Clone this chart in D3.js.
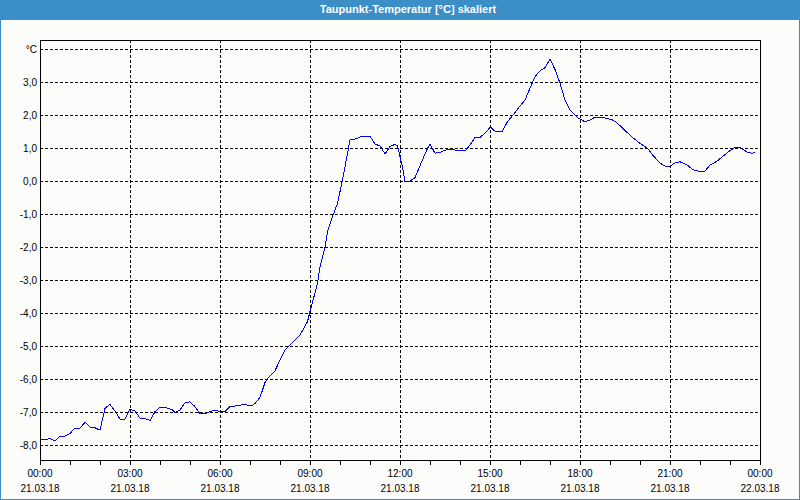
<!DOCTYPE html>
<html>
<head>
<meta charset="utf-8">
<script src="https://cdn.jsdelivr.net/npm/d3@7"></script>
<style>
  body { margin: 0; background: #fcfdfb; }
  svg text { font-family: "Liberation Sans", Arial, sans-serif; }
</style>
</head>
<body>
<div class="canvas"></div>
<script>
// chart title
const title = "Taupunkt-Temperatur [°C] skaliert";

// measurement times, minutes after 21.03.18 00:00
const minutes = [
  0, 10, 20, 30, 40, 50, 60, 70, 80, 90, 100, 110, 120, 130, 140, 150, 160, 170,
  180, 190, 200, 210, 220, 230, 240, 250, 265, 270, 280, 290, 300, 310, 320, 330,
  340, 350, 360, 370, 380, 390, 405, 425, 430, 440, 450, 455, 470, 480, 490, 505,
  520, 535, 540, 555, 560, 570, 575, 585, 595, 600, 605, 612, 620, 630, 645, 660,
  670, 680, 690, 700, 710, 715, 725, 730, 740, 750, 765, 775, 780, 790, 800, 815,
  825, 835, 850, 860, 870, 880, 895, 900, 910, 925, 935, 945, 960, 970, 980, 990,
  1000, 1010, 1020, 1030, 1040, 1050, 1060, 1075, 1090, 1100, 1110, 1125, 1145,
  1155, 1165, 1185, 1200, 1215, 1225, 1240, 1250, 1260, 1270, 1280, 1295, 1305,
  1320, 1330, 1340, 1355, 1365, 1380, 1390, 1400, 1405, 1415, 1425, 1430
];

// dew point in °C
const dewPoint = [
  -7.82, -7.84, -7.79, -7.87, -7.72, -7.72, -7.64, -7.48, -7.48, -7.30, -7.45, -7.47, -7.54, -6.88, -6.76, -6.96, -7.21, -7.21,
  -6.91, -6.96, -7.18, -7.19, -7.25, -6.98, -6.85, -6.85, -6.93, -7.00, -6.93, -6.71, -6.68, -6.83, -7.05, -7.05,
  -6.98, -6.93, -6.98, -6.98, -6.83, -6.81, -6.77, -6.79, -6.73, -6.55, -6.10, -5.97, -5.74, -5.42, -5.11, -4.88,
  -4.66, -4.25, -3.95, -3.09, -2.59, -2.00, -1.53, -1.07, -0.67, -0.31, 0.04, 0.60, 1.25, 1.28, 1.37, 1.37,
  1.13, 1.07, 0.83, 1.05, 1.12, 1.07, 0.44, -0.02, 0.01, 0.11, 0.65, 1.00, 1.13, 0.85, 0.88, 0.97,
  0.97, 0.93, 0.92, 1.10, 1.33, 1.33, 1.53, 1.65, 1.52, 1.52, 1.81, 1.99, 2.28, 2.46, 2.82, 3.17,
  3.35, 3.44, 3.70, 3.39, 2.97, 2.46, 2.16, 1.93, 1.80, 1.86, 1.94, 1.94, 1.86,
  1.76, 1.61, 1.33, 1.15, 1.00, 0.80, 0.55, 0.46, 0.46, 0.56, 0.59, 0.49, 0.36,
  0.29, 0.31, 0.49, 0.62, 0.75, 0.93, 1.03, 1.02, 0.98, 0.88, 0.85, 0.88
];

// y grid values, the top one is labelled with the unit
const yTicks = [-8, -7, -6, -5, -4, -3, -2, -1, 0, 1, 2, 3, 4];
const yUnit = "°C";

// dimensions
const width = 800, height = 500;
const plot = { left: 40, top: 40, right: 760, bottom: 460 };

const start = new Date(2018, 2, 21, 0, 0);
const end = new Date(2018, 2, 22, 0, 0);
const data = minutes.map((m, i) => ({ date: d3.timeMinute.offset(start, m), value: dewPoint[i] }));

const svg = d3.select(".canvas")
  .append("svg")
  .attr("width", width)
  .attr("height", height);

// window frame
svg.append("rect")
  .attr("x", 0.5).attr("y", 0.5)
  .attr("width", width - 1).attr("height", height - 1)
  .attr("fill", "#fcfdfb")
  .attr("stroke", "#3b8ec6");
svg.append("rect")
  .attr("x", 0).attr("y", 0)
  .attr("width", width).attr("height", 20)
  .attr("fill", "#3b8ec6");
svg.append("text")
  .attr("x", 408).attr("y", 13)
  .attr("text-anchor", "middle")
  .attr("fill", "white")
  .attr("font-size", 11)
  .attr("font-weight", "bold")
  .text(title);

// scales
const x = d3.scaleTime().domain([start, end]).range([plot.left, plot.right]);
const y = d3.scaleLinear()
  .domain([(181.3 - plot.bottom) / 33, (181.3 - plot.top) / 33])
  .range([plot.bottom, plot.top]);

// horizontal grid
svg.append("g")
  .selectAll("line")
  .data(yTicks)
  .join("line")
  .attr("x1", plot.left).attr("x2", plot.right)
  .attr("y1", d => Math.round(y(d)) + 0.5)
  .attr("y2", d => Math.round(y(d)) + 0.5)
  .attr("stroke", "black")
  .attr("stroke-dasharray", "3,2");

// vertical grid every 3 hours
const xGrid = d3.timeHour.every(3).range(d3.timeHour.offset(start, 3), end);
svg.append("g")
  .selectAll("line")
  .data(xGrid)
  .join("line")
  .attr("x1", d => Math.round(x(d)) + 0.5)
  .attr("x2", d => Math.round(x(d)) + 0.5)
  .attr("y1", plot.top).attr("y2", plot.bottom)
  .attr("stroke", "black")
  .attr("stroke-dasharray", "3,2");

// bottom axis with hourly ticks
const fmtTime = d3.timeFormat("%H:%M");
const fmtDate = d3.timeFormat("%d.%m.%y");
const xAxis = svg.append("g")
  .attr("transform", `translate(0, ${plot.bottom})`)
  .call(d3.axisBottom(x).ticks(d3.timeHour.every(1)).tickSize(5).tickSizeOuter(0).tickFormat(""));
xAxis.select(".domain").remove();
xAxis.selectAll("line").attr("stroke", "black");

const xLabels = d3.timeHour.every(3).range(start, d3.timeMinute.offset(end, 1));
const lab = svg.append("g").selectAll("g")
  .data(xLabels)
  .join("g")
  .attr("transform", d => `translate(${x(d)}, 0)`);
lab.append("text")
  .attr("y", 477)
  .attr("text-anchor", "middle")
  .attr("font-size", 10)
  .attr("fill", "black")
  .text(fmtTime);
lab.append("text")
  .attr("y", 492)
  .attr("text-anchor", "middle")
  .attr("font-size", 10)
  .attr("fill", "black")
  .text(fmtDate);

// y labels
svg.append("g")
  .selectAll("text")
  .data(yTicks)
  .join("text")
  .attr("x", 37)
  .attr("y", d => y(d) + 3.5)
  .attr("text-anchor", "end")
  .attr("font-size", 10)
  .attr("fill", "black")
  .text(d => d === 4 ? yUnit : d3.format(".1f")(d).replace(".", ",").replace("−", "-"));

// plot frame
svg.append("rect")
  .attr("x", plot.left + 0.5).attr("y", plot.top + 0.5)
  .attr("width", plot.right - plot.left).attr("height", plot.bottom - plot.top)
  .attr("fill", "none")
  .attr("stroke", "black");

// line
const line = d3.line()
  .x(d => x(d.date))
  .y(d => y(d.value));
svg.append("path")
  .datum(data)
  .attr("d", line)
  .attr("fill", "none")
  .attr("stroke", "#0000ff")
  .attr("stroke-width", 1)
  .attr("shape-rendering", "crispEdges");
</script>
</body>
</html>
